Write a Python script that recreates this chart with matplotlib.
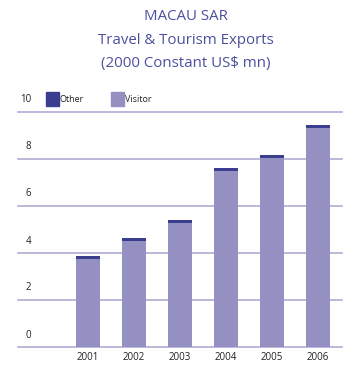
import matplotlib
matplotlib.use("Agg")
import matplotlib.pyplot as plt
from matplotlib.patches import Rectangle
from matplotlib.transforms import offset_copy

years = ["2001", "2002", "2003", "2004", "2005", "2006"]
visitor = [3.74, 4.53, 5.28, 7.50, 8.06, 9.33]
other = [0.13, 0.11, 0.12, 0.12, 0.11, 0.12]
yticks = [0, 2, 4, 6, 8, 10]

title_color = "#4b4f9f"
visitor_color = "#9491c2"
other_color = "#3b3e8f"
grid_color = "#a9a4d1"
text_color = "#222222"
font = "Open Sans"

W, H = 346, 367
fig = plt.figure(figsize=(W / 100, H / 100), dpi=100)
fig.patch.set_facecolor("white")

# axes box in pixel terms
x0, x1 = 18, 342
y_top, y_bot = 112, 347
ax = fig.add_axes([x0 / W, (H - y_bot) / H, (x1 - x0) / W, (y_bot - y_top) / H])
ax.set_xlim(-1.522, 5.522)
ax.set_ylim(0, 10)
ax.axis("off")

for t in yticks:
    ax.axhline(t, color=grid_color, lw=1.1, zorder=1, clip_on=False,
               snap=True)
    tr = offset_copy(ax.transData, fig=fig, x=0, y=12 / 100 * 72, units="points")
    ax.text(-1.522 + 13 / 46, t, str(t), transform=tr, ha="right", va="center",
            fontsize=7, color=text_color, family=font)

xs = list(range(len(years)))
ax.bar(xs, visitor, width=0.52, color=visitor_color, zorder=2)
ax.bar(xs, other, bottom=visitor, width=0.52, color=other_color, zorder=2)

for x, y in zip(xs, years):
    ax.text(x, 0, y, transform=offset_copy(ax.transData, fig=fig, x=0, y=-10 / 100 * 72, units="points"),
            ha="center", va="center", fontsize=7, color=text_color, family=font)

# title
for yy, line in [(17, "MACAU SAR"), (40, "Travel & Tourism Exports"),
                 (63, "(2000 Constant US$ mn)")]:
    fig.text(186 / W, 1 - yy / H, line, ha="center", va="center", fontsize=10.8,
             color=title_color, family=font)

# legend
for lx, label, col in [(46, "Other", other_color), (111, "Visitor", visitor_color)]:
    fig.patches.append(Rectangle((lx / W, 1 - 106 / H), 13 / W, 14 / H,
                                 transform=fig.transFigure, color=col))
    fig.text((lx + 14) / W, 1 - 99 / H, label, ha="left", va="center",
             fontsize=6.5, color=text_color, family=font)

fig.savefig("out.png", dpi=100)
